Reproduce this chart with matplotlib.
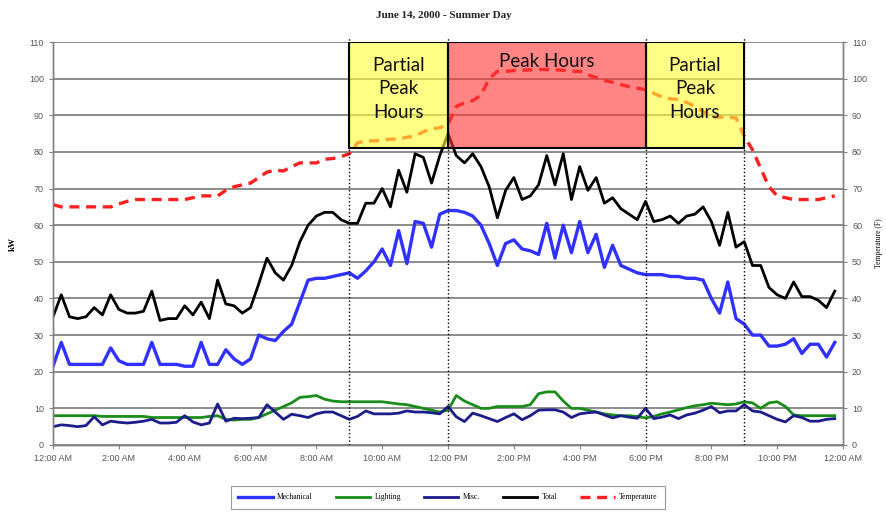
import matplotlib.pyplot as plt
import numpy as np
from matplotlib.patches import Rectangle

# 15 minute readings, 12:00 AM .. 11:45 PM
hours = np.arange(0, 24, 0.25)

mechanical = [21.5, 28, 22, 22, 22, 22, 22, 26.5,
              23, 22, 22, 22, 28, 22, 22, 22,
              21.5, 21.5, 28, 22, 22, 26, 23.5, 22,
              23.5, 30, 29, 28.5, 31, 33, 39, 45,
              45.5, 45.5, 46, 46.5, 47, 45.5, 47.5, 50,
              53.5, 49, 58.5, 49.5, 61, 60.5, 54, 63,
              64, 64, 63.5, 62.5, 60, 55, 49, 55,
              56, 53.5, 53, 52, 60.5, 51, 60, 52.5,
              61, 52.5, 57.5, 48.5, 54.5, 49, 48, 47,
              46.5, 46.5, 46.5, 46, 46, 45.5, 45.5, 45,
              40, 36, 44.5, 34.5, 33, 30, 30, 27,
              27, 27.5, 29, 25, 27.5, 27.5, 24, 28]

lighting = [8, 8, 8, 8, 8, 8, 7.8, 7.8,
            7.8, 7.8, 7.8, 7.8, 7.5, 7.5, 7.5, 7.5,
            7.5, 7.5, 7.5, 7.8, 8, 7, 6.8, 7,
            7, 7.5, 8.5, 9.5, 10.5, 11.5, 13, 13.2,
            13.5, 12.5, 12, 11.8, 11.8, 11.8, 11.8, 11.8,
            11.8, 11.5, 11.2, 11, 10.5, 10, 9.5, 9,
            9.5, 13.5, 12, 11, 10, 10, 10.5, 10.5,
            10.5, 10.5, 11, 14, 14.5, 14.5, 12, 10,
            10, 9.5, 9, 8.5, 8.2, 8, 8, 7.8,
            7.4, 7.8, 8.5, 9, 9.6, 10.2, 10.7, 11,
            11.4, 11.2, 11, 11.2, 11.8, 11.5, 10, 11.5,
            11.8, 10.5, 8.2, 8, 8, 8, 8, 8]

misc = [5, 5.5, 5.3, 5, 5.3, 7.7, 5.5, 6.5,
        6.2, 6, 6.2, 6.5, 7, 6, 6, 6.2,
        8, 6.3, 5.5, 6, 11.2, 6.5, 7.3, 7.2,
        7.3, 7.5, 11, 9, 7, 8.4, 8, 7.5,
        8.5, 9, 9, 8, 7, 7.8, 9.3, 8.5,
        8.5, 8.5, 8.7, 9.3, 9, 9, 8.8, 8.5,
        10.5, 7.7, 6.4, 8.7, 8, 7.2, 6.4, 7.5,
        8.5, 6.9, 8, 9.5, 9.6, 9.6, 9, 7.5,
        8.5, 8.8, 9, 8.2, 7.4, 8, 7.6, 7.3,
        10, 7.2, 7.6, 8.2, 7.2, 8.2, 8.7, 9.5,
        10.5, 8.8, 9.3, 9.3, 11, 9.3, 9, 8,
        7, 6.3, 8, 7.5, 6.5, 6.5, 7, 7.2]

total = [35, 41, 35, 34.5, 35, 37.5, 35.5, 41,
         37, 36, 36, 36.5, 42, 34, 34.5, 34.5,
         38, 35.5, 39, 34.5, 45, 38.5, 38, 36,
         37.5, 44, 51, 47, 45, 49, 55.5, 60,
         62.5, 63.5, 63.5, 61.5, 60.5, 60.5, 66, 66,
         70, 65, 75, 69, 79.5, 78.5, 71.5, 79,
         85, 79, 77, 79.5, 76, 70.5, 62, 69.5,
         73, 67, 68, 71, 79, 71, 79.5, 67,
         76, 69.5, 73, 66, 67.5, 64.5, 63, 61.5,
         66.5, 61, 61.5, 62.5, 60.5, 62.5, 63, 65,
         61, 54.5, 63.5, 54, 55.5, 49, 49, 43,
         41, 40, 44.5, 40.5, 40.5, 39.5, 37.5, 42]

temperature = [65.6, 65, 65, 65, 65, 65, 65, 65,
               65.8, 66.5, 67, 67, 67, 67, 67, 67,
               67, 67.5, 68, 68, 68, 69.5, 70.5, 71,
               71.5, 73, 74.5, 75, 74.8, 76, 77, 77,
               77, 78, 78.2, 78.7, 79.5, 82.5, 83, 83,
               83.2, 83.5, 83.5, 84, 84.3, 85.5, 86.3, 86.6,
               87.5, 92.4, 93.4, 94, 95.5, 100, 102, 102,
               102.2, 102.3, 102.4, 102.5, 102.5, 102.4, 102.3, 102,
               102, 101, 100.3, 99.5, 99, 98.4, 97.8, 97.4,
               97, 96, 95, 94.5, 94.3, 93.5, 92.5, 91,
               89.6, 89.5, 89.4, 89.3, 84.2, 80.6, 75.5, 70.5,
               68, 67.5, 67, 67, 67, 67, 67.5, 68]

tick_hours = [0, 2, 4, 6, 8, 10, 12, 14, 16, 18, 20, 22, 24]
tick_labels = ['12:00 AM', '2:00 AM', '4:00 AM', '6:00 AM', '8:00 AM', '10:00 AM',
               '12:00 PM', '2:00 PM', '4:00 PM', '6:00 PM', '8:00 PM', '10:00 PM', '12:00 AM']

# rate periods: (start, end, label, colour)
periods = [(9, 12, 'Partial\nPeak\nHours', '#ffff33'),
           (12, 18, 'Peak Hours', '#ff3333'),
           (18, 21, 'Partial\nPeak\nHours', '#ffff33')]

fig = plt.figure(figsize=(8.87, 5.16), dpi=100)
ax = fig.add_axes([0.0598, 0.1376, 0.8906, 0.781])
ax2 = ax.twinx()

ax.set_xlim(0, 24)
ax.set_ylim(0, 110)
ax2.set_ylim(0, 110)
ax.set_yticks(range(0, 111, 10))
ax2.set_yticks(range(0, 111, 10))
ax.set_xticks(tick_hours)
ax.set_xticklabels(tick_labels)

ax.grid(axis='y', color='#8c8c8c', linewidth=1.4)
ax.set_axisbelow(True)

l1, = ax.plot(hours, mechanical, color='#3030ff', lw=2.4, label='Mechanical')
l2, = ax.plot(hours, lighting, color='#1a8c1a', lw=2, label='Lighting')
l3, = ax.plot(hours, misc, color='#1c1c8a', lw=2, label='Misc.')
l4, = ax.plot(hours, total, color='black', lw=2, label='Total')
l5, = ax2.plot(hours, temperature, color='#ff2020', lw=2.4, ls=(0, (3, 2)), label='Temperature')

for h in [9, 12, 18, 21]:
    ax2.axvline(h, ymin=0, ymax=1.01, color='black', ls=':', lw=1, clip_on=False)

for start, end, label, col in periods:
    ax2.add_patch(Rectangle((start, 81), end - start, 29, facecolor=col, alpha=0.6,
                            edgecolor='none', zorder=5))
    ax2.add_patch(Rectangle((start, 81), end - start, 29, facecolor='none',
                            edgecolor='black', lw=1.5, zorder=6))
    if '\n' in label:
        ax2.text((start + end) / 2, 97.2, label, ha='center', va='center', fontsize=13.5,
                 family='Lato', color='#111111', linespacing=1.45, zorder=7)
    else:
        ax2.text((start + end) / 2, 104.6, label, ha='center', va='center', fontsize=13.5,
                 family='Lato', color='#111111', zorder=7)

for a in (ax, ax2):
    a.spines['top'].set_visible(False)
    for s in ['left', 'right', 'bottom']:
        a.spines[s].set_color('#808080')
        a.spines[s].set_linewidth(1)
    a.tick_params(colors='#808080', labelcolor='#555555', labelsize=6.5, length=3)
    for t in a.get_xticklabels() + a.get_yticklabels():
        t.set_family('Liberation Sans')

ax.set_ylabel('kW', fontsize=6.5, family='Liberation Serif', fontweight='bold', labelpad=9)
ax2.set_ylabel('Temperature (F)', fontsize=5.5, family='Liberation Serif', labelpad=6)

fig.text(0.5, 0.97, 'June 14, 2000 - Summer Day', ha='center', va='center', fontsize=8,
         family='Liberation Serif', fontweight='bold', color='#222222')

leg = fig.legend(handles=[l1, l2, l3, l4, l5], loc='center', bbox_to_anchor=(0.505, 0.036),
                 ncol=5, fancybox=False, edgecolor='#808080', handlelength=4.5,
                 prop={'family': 'Liberation Serif', 'size': 5.5}, columnspacing=3.0,
                 borderpad=1.0, handletextpad=0.6)
leg.get_frame().set_linewidth(0.8)

plt.savefig('out.png', dpi=100)
